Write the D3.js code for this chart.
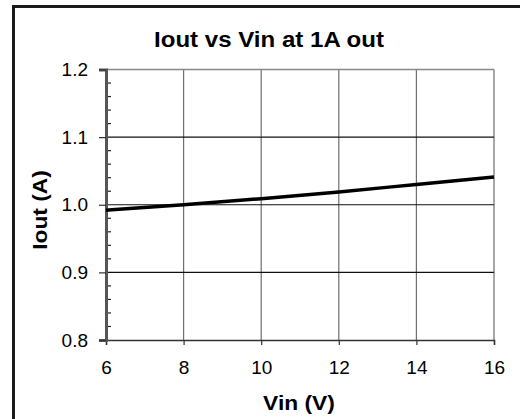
<!DOCTYPE html>
<html>
<head>
<meta charset="utf-8">
<script src="https://cdn.jsdelivr.net/npm/d3@7"></script>
<style>
  body { margin: 0; background: #fff; }
  svg { display: block; font-family: "Liberation Sans", Arial, sans-serif; }
</style>
</head>
<body>
<svg id="chart" width="520" height="419"></svg>
<script>
const vin = [6, 8, 10, 12, 14, 16];
const iout = [0.992, 1.000, 1.009, 1.019, 1.030, 1.041];
const xTicks = [6, 8, 10, 12, 14, 16];
const yTicks = [0.8, 0.9, 1.0, 1.1, 1.2];

const svg = d3.select("#chart");

// outer chart border (only left and top show in the frame)
svg.append("rect")
    .attr("x", 13.5)
    .attr("y", 6.5)
    .attr("width", 530)
    .attr("height", 430)
    .attr("fill", "none")
    .attr("stroke", "#1a1a1a")
    .attr("stroke-width", 3);

const margin = { left: 106, top: 69.5, right: 26, bottom: 79 };
const width = 520 - margin.left - margin.right;
const height = 419 - margin.top - margin.bottom;

const x = d3.scaleLinear().domain([6, 16]).range([0, width]);
const y = d3.scaleLinear().domain([0.8, 1.2]).range([height, 0]);

const g = svg.append("g")
    .attr("transform", `translate(${margin.left},${margin.top})`);

// vertical grid
g.selectAll(".vgrid")
    .data(xTicks.slice(1))
    .join("line")
    .attr("x1", d => x(d)).attr("x2", d => x(d))
    .attr("y1", 0).attr("y2", height)
    .attr("stroke", "#6e6e6e")
    .attr("stroke-width", 1.2);

// top border
g.append("line")
    .attr("x1", 0).attr("x2", width)
    .attr("y1", y(1.2)).attr("y2", y(1.2))
    .attr("stroke", "#888")
    .attr("stroke-width", 1.5);

// horizontal grid
g.selectAll(".hgrid")
    .data([0.9, 1.0, 1.1])
    .join("line")
    .attr("x1", 0).attr("x2", width)
    .attr("y1", d => y(d)).attr("y2", d => y(d))
    .attr("stroke", "#111")
    .attr("stroke-width", 1.2);

// x axis
const xAxis = g.append("g")
    .attr("transform", `translate(0,${height})`)
    .call(d3.axisBottom(x).tickValues(xTicks).tickSize(5).tickPadding(16).tickFormat(d3.format("d")));
xAxis.select(".domain").attr("stroke", "#333").attr("stroke-width", 1.5);
xAxis.selectAll(".tick line").attr("stroke", "#333").attr("stroke-width", 1.2);
xAxis.selectAll("text").attr("font-size", 19).attr("fill", "#000");

// y minor ticks
const minor = d3.range(0.82, 1.2, 0.02).filter(v => Math.abs(v * 10 - Math.round(v * 10)) > 0.01);
g.selectAll(".minor")
    .data(minor)
    .join("line")
    .attr("x1", 0).attr("x2", 5)
    .attr("y1", d => y(d)).attr("y2", d => y(d))
    .attr("stroke", "#222")
    .attr("stroke-width", 1.2);

// y axis
const yAxis = g.append("g")
    .call(d3.axisLeft(y).tickValues(yTicks).tickSize(7).tickPadding(11).tickFormat(d3.format(".1f")));
yAxis.select(".domain").attr("stroke", "#555").attr("stroke-width", 3);
yAxis.selectAll(".tick line").attr("stroke", "#333").attr("stroke-width", 1.2);
yAxis.selectAll("text").attr("font-size", 19).attr("fill", "#000");

// data line
const line = d3.line()
    .x((d, i) => x(vin[i]))
    .y(d => y(d))
    .curve(d3.curveMonotoneX);

g.append("path")
    .datum(iout)
    .attr("d", line)
    .attr("fill", "none")
    .attr("stroke", "#000")
    .attr("stroke-width", 3.5);

// titles (source text is slightly stretched horizontally)
svg.append("text")
    .attr("transform", "translate(269,46.5) scale(1.12,1)")
    .attr("text-anchor", "middle")
    .attr("font-size", 21.5)
    .attr("font-weight", "bold")
    .text("Iout vs Vin at 1A out");

svg.append("text")
    .attr("transform", "translate(299,410) scale(1.14,1)")
    .attr("text-anchor", "middle")
    .attr("font-size", 20)
    .attr("font-weight", "bold")
    .text("Vin (V)");

svg.append("text")
    .attr("transform", "translate(47,210) rotate(-90) scale(1.14,1)")
    .attr("text-anchor", "middle")
    .attr("font-size", 20)
    .attr("font-weight", "bold")
    .text("Iout (A)");
</script>
</body>
</html>
